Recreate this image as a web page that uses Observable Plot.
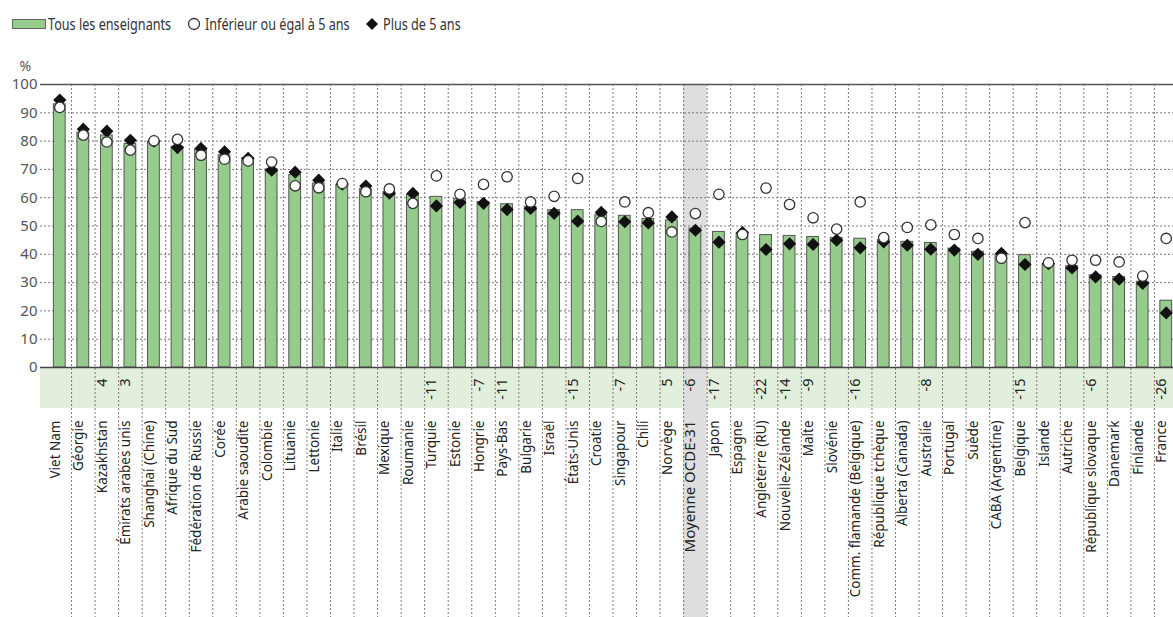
<!DOCTYPE html>
<html><head><meta charset="utf-8">
<script src="https://cdn.jsdelivr.net/npm/d3@7"></script>
<script src="https://cdn.jsdelivr.net/npm/@observablehq/plot@0.6"></script>
<style>
body{margin:0;background:#fff;width:1173px;height:617px;overflow:hidden;font-family:"Noto Sans",sans-serif;}
#legend{position:relative;height:40px;}
.lg{position:absolute;top:13px;font-size:16px;color:#333;line-height:22px;white-space:nowrap;transform:scaleX(0.79);transform-origin:0 50%;}
.sym{position:absolute;}
</style></head><body>
<div id="legend">
  <div class="sym" style="left:12px;top:19px;width:32px;height:8px;background:#96cc8b;border:1px solid #666"></div>
  <div class="lg" style="left:48px">Tous les enseignants</div>
  <svg class="sym" style="left:187px;top:17px" width="14" height="14"><circle cx="7" cy="7" r="5.5" fill="#fff" stroke="#333" stroke-width="1.3"/></svg>
  <div class="lg" style="left:205px">Inférieur ou égal à 5 ans</div>
  <svg class="sym" style="left:365px;top:17px" width="14" height="14"><path d="M7 1 L13 7 L7 13 L1 7Z" fill="#111"/></svg>
  <div class="lg" style="left:383px">Plus de 5 ans</div>
</div>
<div id="chart"></div>
<script>
const countries = ["Viet Nam","Géorgie","Kazakhstan","Émirats arabes unis","Shanghai (Chine)","Afrique du Sud","Fédération de Russie","Corée","Arabie saoudite","Colombie","Lituanie","Lettonie","Italie","Brésil","Mexique","Roumanie","Turquie","Estonie","Hongrie","Pays-Bas","Bulgarie","Israël","États-Unis","Croatie","Singapour","Chili","Norvège","Moyenne OCDE-31","Japon","Espagne","Angleterre (RU)","Nouvelle-Zélande","Malte","Slovénie","Comm. flamande (Belgique)","République tchèque","Alberta (Canada)","Australie","Portugal","Suède","CABA (Argentine)","Belgique","Islande","Autriche","République slovaque","Danemark","Finlande","France"];
const allTeachers = [93,83,82,79,79.7,78,77,75,74,70,68,65,64.5,63,62,61,60.3,59.5,58.5,57.7,56.8,55.6,55.6,53.8,53.6,52.5,52,49.1,47.9,47.3,46.8,46.5,46.1,45.8,45.5,45,44.4,44,42,40.9,39.7,39.7,36.5,35.8,32.6,32,30.3,23.6];
const lowSeniority = [91.9,82.1,79.7,76.8,80.1,80.6,75,73.6,73,72.6,64.2,63.5,65,62.1,63.1,58,67.7,61.2,64.7,67.4,58.5,60.5,66.8,51.6,58.5,54.7,47.9,54.4,61.2,47,63.4,57.6,52.9,48.9,58.5,45.9,49.5,50.4,47,45.6,38.6,51.2,37,37.9,37.9,37.3,32.3,45.6];
const highSeniority = [94.5,84.2,83.5,80.3,80,77.7,77.4,76.2,73.9,69.7,69,66.2,64.8,64.1,61.6,61.5,57.1,58.3,58,55.8,56.2,54.5,51.7,54.8,51.5,51.1,53.2,48.5,44.3,47.7,41.7,43.7,43.5,45,42.3,44.4,43.2,41.8,41.5,40,40.3,36.4,36.7,35.2,32,31.2,29.7,19.3];
const diffCountries = ["Kazakhstan","Émirats arabes unis","Turquie","Hongrie","Pays-Bas","États-Unis","Singapour","Norvège","Moyenne OCDE-31","Japon","Angleterre (RU)","Nouvelle-Zélande","Malte","Comm. flamande (Belgique)","Australie","Belgique","République slovaque","France"];
const diffValues = [4,3,-11,-7,-11,-15,-7,5,-6,-17,-22,-14,-9,-16,-8,-15,-6,-26];
const yTicks = [0,10,20,30,40,50,60,70,80,90,100];
const highlight = "Moyenne OCDE-31";

const rows = countries.map((c,i)=>({country:c,total:allTeachers[i],low:lowSeniority[i],high:highSeniority[i]}));
const diffRows = diffCountries.map((c,i)=>({country:c,diff:diffValues[i]}));

const chart = Plot.plot({
  width: 1173, height: 577,
  marginTop: 44, marginBottom: 250, marginLeft: 40, marginRight: 0,
  style: {fontFamily: "Noto Sans", fontSize: "15px", background: "transparent", overflow: "visible"},
  x: {type: "band", domain: countries, range: [47.5, 1177.5], paddingInner: 0.5, paddingOuter: 0.25, round: false, axis: null},
  y: {domain: [0, 100], axis: null},
  marks: [
    Plot.rect([0], {y1: 0, y2: 0, insetBottom: -41, fill: "#e3efdd"}),
    Plot.barY([highlight], {x: d=>d, y1: 0, y2: 100, insetBottom: -250, insetLeft: -5.9, insetRight: -5.9, fill: "#dedede"}),
    Plot.ruleY(yTicks.filter(d=>d>0 && d<100), {y: d=>d, stroke: "#7a7a7a", strokeDasharray: "2,2"}),
    Plot.ruleX(countries.slice(1), {x: d=>d, y1: 100, y2: 0, insetBottom: -250, dx: -11.77, stroke: "#7a7a7a", strokeDasharray: "2,2"}),
    Plot.barY(rows, {x: "country", y: "total", fill: "#96cc8b", stroke: "#555", strokeWidth: 1}),
    Plot.ruleY([0], {stroke: "#444", strokeWidth: 1.5}),
    Plot.ruleY([100], {stroke: "#555", strokeWidth: 1.5}),
    Plot.dot(rows, {x: "country", y: "high", symbol: "diamond2", r: 5, fill: "#111", stroke: "#111"}),
    Plot.dot(rows, {x: "country", y: "low", r: 5.2, fill: "white", stroke: "#333", strokeWidth: 1.3}),
    Plot.text(yTicks, {y: d=>d, text: d=>String(d), frameAnchor: "left", dx: -3, textAnchor: "end", fill: "#555", fontSize: 15}),
    Plot.text(["%"], {text: d=>d, frameAnchor: "top-left", dx: -21, dy: -23, textAnchor: "start", fill: "#555", fontSize: 14}),
    Plot.text(diffRows, {x: "country", text: d=>String(d.diff), frameAnchor: "bottom", dy: 11, rotate: -90, textAnchor: "end", fill: "#222", fontSize: 14.5}),
    Plot.text(countries, {x: d=>d, text: d=>d, frameAnchor: "bottom", dy: 53, rotate: -90, textAnchor: "end", fill: "#222", fontSize: d=>d===highlight?15:13.5, fontWeight: d=>d===highlight?"bold":"normal"})
  ]
});
document.getElementById("chart").appendChild(chart);
</script></body></html>
